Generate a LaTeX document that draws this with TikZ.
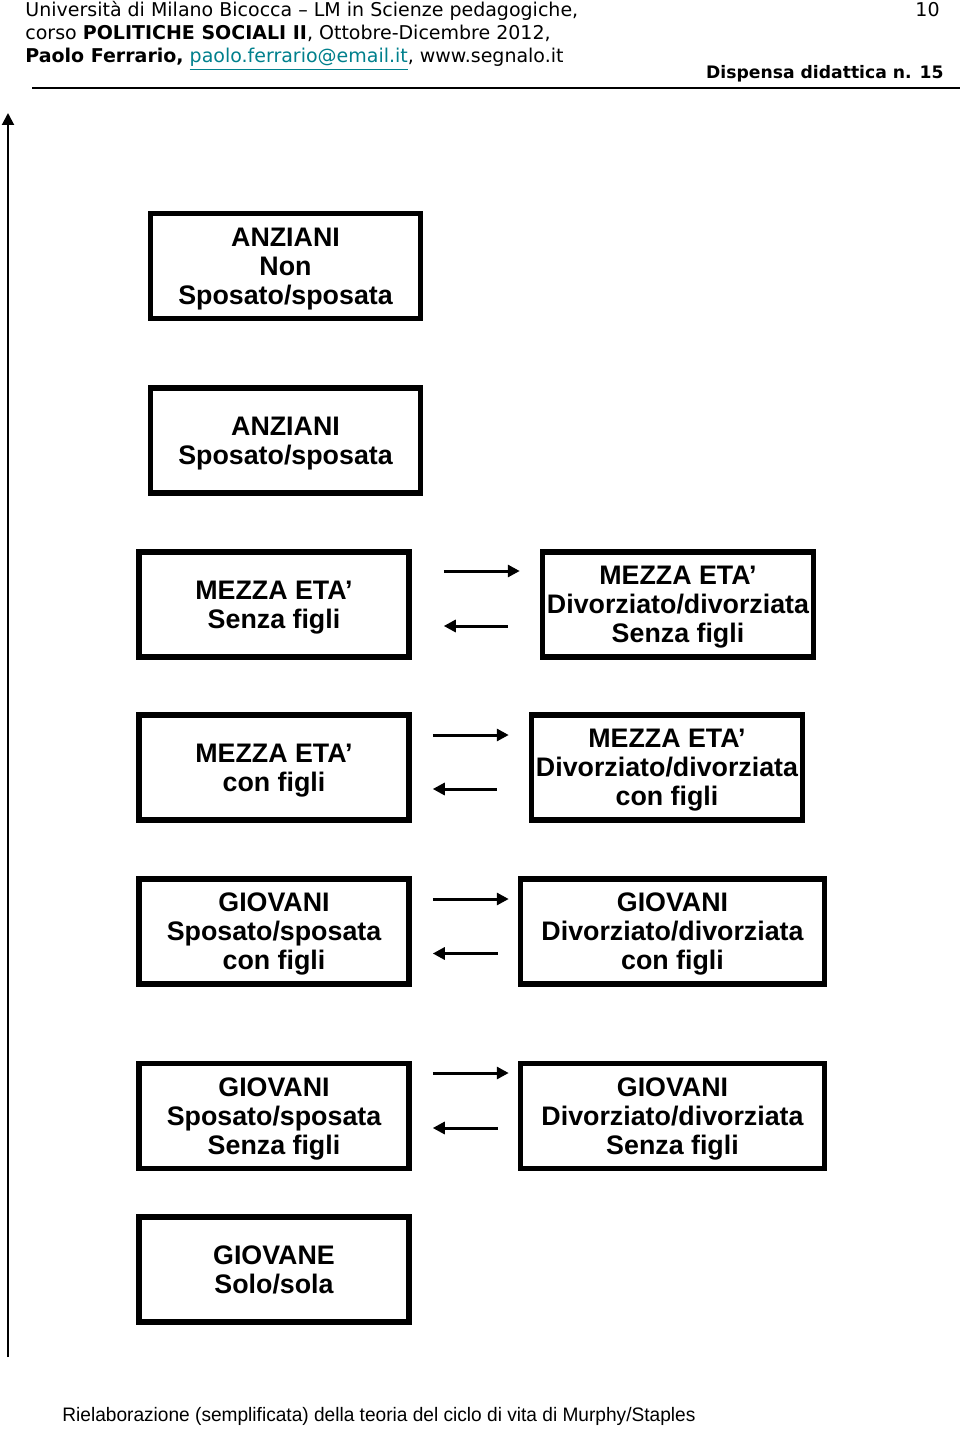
\documentclass[tikz,border=0pt]{standalone}
\usepackage{fontspec}
\setmainfont{Liberation Sans}
\newfontfamily\headfont{DejaVu Sans}
\newfontfamily\footfont[FakeStretch=0.98]{Liberation Sans}
\usetikzlibrary{arrows.meta}
\definecolor{linkteal}{RGB}{0,128,140}

\tikzset{
  stadio/.style={draw, line width=2.75pt, align=center, inner sep=0pt,
    minimum width=135pt, minimum height=52.5pt, text depth=0pt,
    font=\bfseries\fontsize{13.4}{14.5}\selectfont},
  passo/.style={->, line width=1.5pt},
  intesta/.style={anchor=base west, inner sep=0pt, font=\headfont\fontsize{9.5}{11.5}\selectfont},
}

\begin{document}
\begin{tikzpicture}[>={Triangle[length=6pt,width=6pt]},x=0.5pt,y=-0.5pt]
	\useasboundingbox (0,0) rectangle (960,1429);
	% intestazione
	\node[intesta] (riga1) at (25,17) {Università di Milano Bicocca – LM in Scienze pedagogiche,};
	\node[intesta] (riga2) at (25,40) {corso \textbf{POLITICHE SOCIALI II}, Ottobre-Dicembre 2012,};
	\node[intesta] (riga3) at (25,63) {\textbf{Paolo Ferrario,} \textcolor{linkteal}{\underline{paolo.ferrario@email.it}}, www.segnalo.it};
	\node[intesta,anchor=base east] (pagina) at (940,17) {10};
	\node[intesta,anchor=base east,font=\headfont\bfseries\fontsize{8.6}{11.5}\selectfont] (dispensa) at (944,79) {Dispensa didattica n. 15};
	\draw[line width=1pt] (32,88) -- (960,88);
	% asse del tempo
	\coordinate (base) at (8,1357);
	\coordinate (cima) at (8,113);
	\draw[->,line width=1pt] (base) -- (cima);
	% stadi
	\node[stadio] (anzNon) at (285.5,266) {ANZIANI\\Non\\Sposato/sposata};
	\node[stadio] (anzSp) at (285.5,440.5) {ANZIANI\\Sposato/sposata};
	\node[stadio] (mezSenza) at (274,604.5) {MEZZA ETA’\\Senza figli};
	\node[stadio,minimum width=135.5pt] (mezDivSenza) at (678,604.5) {MEZZA ETA’\\Divorziato/divorziata\\Senza figli};
	\node[stadio] (mezCon) at (274,767.5) {MEZZA ETA’\\con figli};
	\node[stadio,minimum width=135.5pt] (mezDivCon) at (667,767.5) {MEZZA ETA’\\Divorziato/divorziata\\con figli};
	\node[stadio] (giovCon) at (274,931.5) {GIOVANI\\Sposato/sposata\\con figli};
	\node[stadio,minimum width=152pt] (giovDivCon) at (672.5,931.5) {GIOVANI\\Divorziato/divorziata\\con figli};
	\node[stadio] (giovSenza) at (274,1116) {GIOVANI\\Sposato/sposata\\Senza figli};
	\node[stadio,minimum width=152pt] (giovDivSenza) at (672.5,1116) {GIOVANI\\Divorziato/divorziata\\Senza figli};
	\node[stadio] (giovSolo) at (274,1269.5) {GIOVANE\\Solo/sola};
	% passaggi
	\draw[passo] ([shift={(32,-33.5)}]mezSenza.east) -- ([shift={(-20,-33.5)}]mezDivSenza.west);
	\draw[passo] ([shift={(-32,21.5)}]mezDivSenza.west) -- ([shift={(32,21.5)}]mezSenza.east);
	\draw[passo] ([shift={(21,-32.5)}]mezCon.east) -- ([shift={(-20,-32.5)}]mezDivCon.west);
	\draw[passo] ([shift={(-32,21.5)}]mezDivCon.west) -- ([shift={(21,21.5)}]mezCon.east);
	\draw[passo] ([shift={(21,-32.5)}]giovCon.east) -- ([shift={(-9,-32.5)}]giovDivCon.west);
	\draw[passo] ([shift={(-20,22)}]giovDivCon.west) -- ([shift={(21,22)}]giovCon.east);
	\draw[passo] ([shift={(21,-43)}]giovSenza.east) -- ([shift={(-9,-43)}]giovDivSenza.west);
	\draw[passo] ([shift={(-20,12)}]giovDivSenza.west) -- ([shift={(21,12)}]giovSenza.east);
	% nota
	\node[anchor=base west,inner sep=0pt,font=\footfont\fontsize{9.75}{12}\selectfont] (nota) at (62,1421) {Rielaborazione (semplificata) della teoria del ciclo di vita di Murphy/Staples};
\end{tikzpicture}
\end{document}
